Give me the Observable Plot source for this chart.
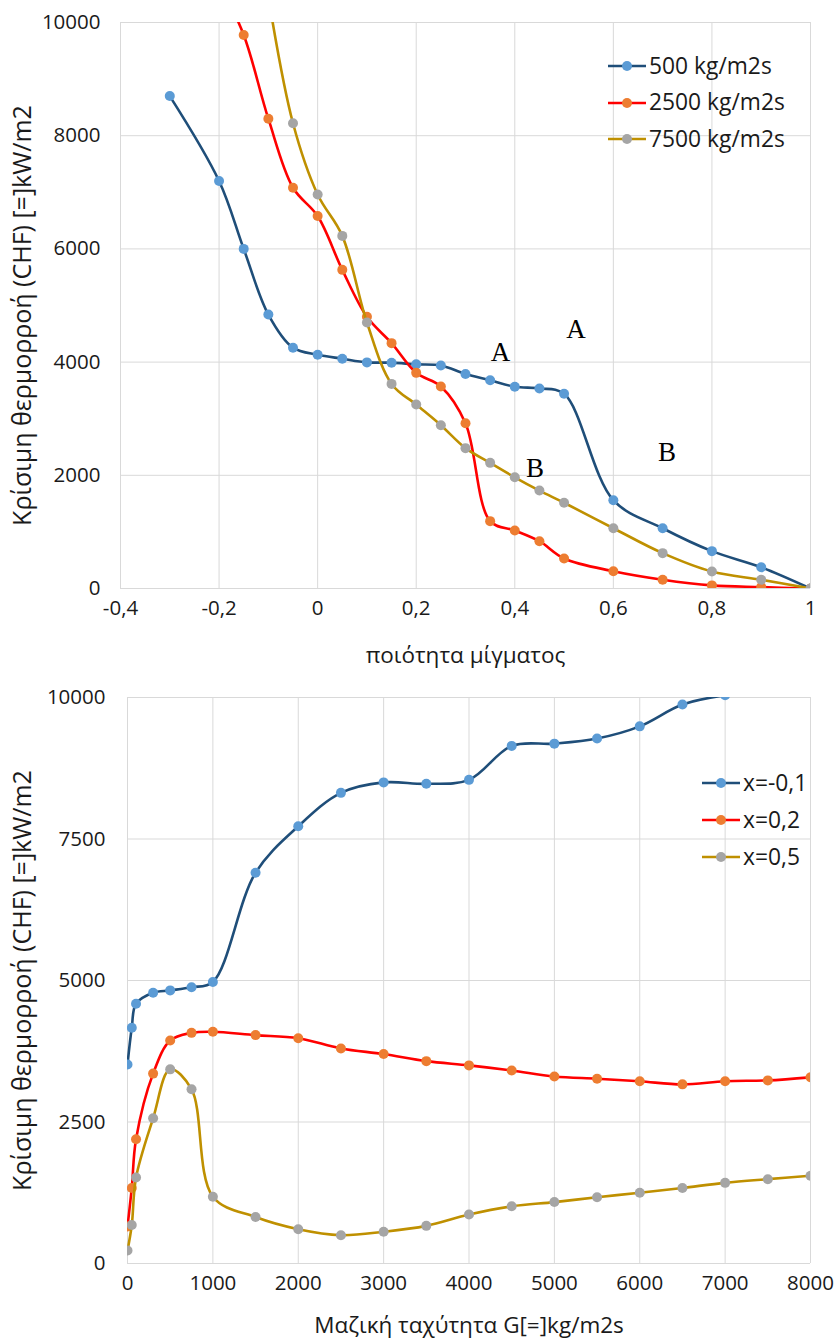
<!DOCTYPE html>
<html>
<head>
<meta charset="utf-8">
<script src="https://cdn.jsdelivr.net/npm/d3@7"></script>
<script src="https://cdn.jsdelivr.net/npm/@observablehq/plot@0.6"></script>
<style>
  body { margin: 0; background: #fff; }
  #wrap { position: relative; width: 835px; height: 1339px; font-family: "Open Sans", sans-serif; }
  #wrap svg { display: block; }
  .legend-row { position: absolute; display: flex; align-items: center; white-space: nowrap;
    font-family: "Open Sans", sans-serif; font-size: 22.8px; color: #1a1a1a; line-height: 1; }
</style>
</head>
<body>
<div id="wrap"></div>
<script>
// ---------- Top chart data: CHF vs quality ----------
const quality500  = [-0.3,-0.2,-0.15,-0.1,-0.05,0,0.05,0.1,0.15,0.2,0.25,0.3,0.35,0.4,0.45,0.5,0.6,0.7,0.8,0.9,1];
const chf500      = [8700,7200,6000,4840,4255,4130,4060,3995,3990,3960,3940,3790,3680,3565,3535,3440,1560,1065,660,375,0];
const quality2500 = [-0.2,-0.15,-0.1,-0.05,0,0.05,0.1,0.15,0.2,0.25,0.3,0.35,0.4,0.45,0.5,0.6,0.7,0.8,0.9,1];
const chf2500     = [10700,9780,8300,7080,6580,5630,4800,4335,3810,3570,2920,1190,1025,835,530,305,155,55,25,0];
const quality7500 = [-0.1,-0.05,0,0.05,0.1,0.15,0.2,0.25,0.3,0.35,0.4,0.45,0.5,0.6,0.7,0.8,0.9,1];
const chf7500     = [10450,8220,6960,6230,4700,3615,3250,2885,2480,2220,1965,1730,1515,1065,625,300,155,0];
const topSeriesNames = ["500 kg/m2s", "2500 kg/m2s", "7500 kg/m2s"];
const topXTicks = [-0.4,-0.2,0,0.2,0.4,0.6,0.8,1];
const topYTicks = [0,2000,4000,6000,8000,10000];
const annLabels = ["A","A","B","B"];
const annX      = [0.371,0.524,0.441,0.709];
const annY      = [4175,4570,2125,2410];

// ---------- Bottom chart data: CHF vs mass flux ----------
const massFlux  = [0,50,100,300,500,750,1000,1500,2000,2500,3000,3500,4000,4500,5000,5500,6000,6500,7000,7500,8000];
const chfXm01   = [3515,4165,4590,4785,4825,4880,4975,6905,7725,8315,8500,8475,8545,9145,9185,9275,9490,9875,10040];
const chfX02    = [655,1335,2195,3355,3940,4075,4095,4035,3980,3800,3700,3575,3500,3410,3305,3265,3220,3165,3220,3235,3290];
const chfX05    = [230,680,1520,2565,3430,3080,1180,820,605,500,560,665,865,1010,1085,1170,1250,1335,1425,1490,1550];
const botSeriesNames = ["x=-0,1", "x=0,2", "x=0,5"];
const botXTicks = [0,1000,2000,3000,4000,5000,6000,7000,8000];
const botYTicks = [0,2500,5000,7500,10000];

// ---------- Styling ----------
const lineColors   = ["#1f4e79", "#ff0000", "#bf9000"];
const markerColors = ["#5b9bd5", "#ed7d31", "#a5a5a5"];
const gridColor = "#d9d9d9";
const textColor = "#1a1a1a";
const yTitle = "Κρίσιμη θερμορροή (CHF) [=]kW/m2";

const toRows = (xs, ys) => ys.map((y, i) => ({x: xs[i], y}));
const topRows = [toRows(quality500, chf500), toRows(quality2500, chf2500), toRows(quality7500, chf7500)];
const botRows = [toRows(massFlux, chfXm01), toRows(massFlux, chfX02), toRows(massFlux, chfX05)];

function seriesMarks(rowsList) {
  const marks = [];
  rowsList.forEach((rows, i) => {
    marks.push(Plot.line(rows, {x: "x", y: "y", stroke: lineColors[i], strokeWidth: 2.6, curve: "catmull-rom", clip: true}));
    marks.push(Plot.dot(rows, {x: "x", y: "y", fill: markerColors[i], r: 5, stroke: "none", clip: true}));
  });
  return marks;
}

const fmtComma = d => String(d).replace(".", ",");
const wrapEl = document.getElementById("wrap");
const baseStyle = {fontFamily: "Open Sans, sans-serif", fontSize: "20.5px", color: textColor, background: "#fff", overflow: "visible"};

// ---------- Top chart ----------
const chartTop = Plot.plot({
  width: 835, height: 670,
  marginLeft: 120, marginRight: 25, marginTop: 22, marginBottom: 82,
  style: baseStyle,
  x: {domain: [-0.4, 1]},
  y: {domain: [0, 10000]},
  marks: [
    Plot.gridX(topXTicks, {stroke: gridColor, strokeOpacity: 1, strokeWidth: 1}),
    Plot.gridY(topYTicks, {stroke: gridColor, strokeOpacity: 1, strokeWidth: 1}),
    Plot.axisX({ticks: topXTicks, tickSize: 0, tickPadding: 12, tickFormat: fmtComma, label: null}),
    Plot.axisY({ticks: topYTicks, tickSize: 0, tickPadding: 20, tickFormat: d => String(d), label: null}),
    ...seriesMarks(topRows),
    Plot.text(annLabels.map((t, i) => ({t, x: annX[i], y: annY[i]})), {x: "x", y: "y", text: "t", fontFamily: "Liberation Serif, Times New Roman, serif", fontSize: 27, fill: "#000"}),
    Plot.text(["ποιότητα μίγματος"], {frameAnchor: "bottom", lineAnchor: "middle", dy: 67, text: d => d, fontSize: 22.5, fill: textColor}),
    Plot.text([yTitle], {frameAnchor: "left", textAnchor: "middle", lineAnchor: "middle", rotate: -90, dx: -98, dy: 10, text: d => d, fontSize: 25, fill: textColor})
  ]
});
wrapEl.appendChild(chartTop);

// ---------- Bottom chart ----------
const chartBottom = Plot.plot({
  width: 835, height: 669,
  marginLeft: 127, marginRight: 25, marginTop: 27, marginBottom: 76,
  style: baseStyle,
  x: {domain: [0, 8000]},
  y: {domain: [0, 10000]},
  marks: [
    Plot.gridX(botXTicks, {stroke: gridColor, strokeOpacity: 1, strokeWidth: 1}),
    Plot.gridY(botYTicks, {stroke: gridColor, strokeOpacity: 1, strokeWidth: 1}),
    Plot.axisX({ticks: botXTicks, tickSize: 0, tickPadding: 12, tickFormat: d => String(d), label: null}),
    Plot.axisY({ticks: botYTicks, tickSize: 0, tickPadding: 22, tickFormat: d => String(d), label: null}),
    ...seriesMarks(botRows),
    Plot.text(["Μαζική ταχύτητα G[=]kg/m2s"], {frameAnchor: "bottom", lineAnchor: "middle", dy: 62, text: d => d, fontSize: 22.5, fill: textColor}),
    Plot.text([yTitle], {frameAnchor: "left", textAnchor: "middle", lineAnchor: "middle", rotate: -90, dx: -105, text: d => d, fontSize: 25, fill: textColor})
  ]
});
wrapEl.appendChild(chartBottom);

// ---------- Legends (HTML overlays) ----------
function legend(names, left, topY, step) {
  names.forEach((name, i) => {
    const row = document.createElement("div");
    row.className = "legend-row";
    row.style.left = left + "px";
    row.style.top = (topY + i * step - 14) + "px";
    row.style.height = "28px";
    row.innerHTML =
      `<svg width="41" height="28" style="display:inline-block;overflow:visible">` +
      `<line x1="0" x2="38" y1="14" y2="14" stroke="${lineColors[i]}" stroke-width="2.6"/>` +
      `<circle cx="19" cy="14" r="5" fill="${markerColors[i]}"/></svg>` +
      `<span>${name}</span>`;
    wrapEl.appendChild(row);
  });
}
legend(topSeriesNames, 608, 66, 36.7);
legend(botSeriesNames, 702, 783, 37);
</script>
</body>
</html>
